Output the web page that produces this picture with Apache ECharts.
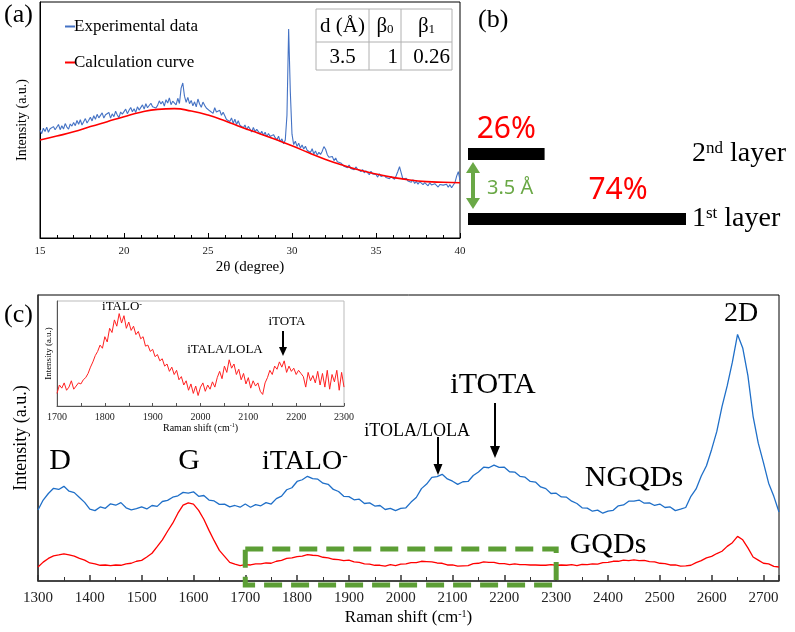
<!DOCTYPE html>
<html><head><meta charset="utf-8">
<script src="https://cdn.jsdelivr.net/npm/echarts@6/dist/echarts.min.js"></script>
<style>html,body{margin:0;padding:0;background:#fff}#c{width:795px;height:632px}</style>
</head><body><div id="c"></div>
<script>
// ---------- data ----------
const xrdStart = 15, xrdStep = 0.1;
const xrdExperimental = [
  45.8,44.2,46.5,45.1,47.0,44.8,46.3,45.5,47.2,45.9,
  46.4,48.1,45.9,47.6,46.2,48.5,47.0,46.1,48.3,47.4,
  48.9,47.6,49.8,48.2,50.1,47.9,49.3,50.6,48.7,49.9,
  51.2,49.6,51.8,50.3,52.4,50.9,51.5,53.0,50.8,52.2,
  51.9,53.2,50.8,52.6,51.4,53.7,52.1,51.0,53.4,52.5,
  53.0,54.6,52.7,54.1,55.3,53.5,54.8,53.2,55.6,54.2,
  55.0,56.4,54.6,56.9,55.2,54.8,57.1,55.6,56.3,55.1,
  56.2,58.1,56.8,57.9,55.9,58.6,57.2,59.4,56.5,58.0,
  57.8,56.4,59.2,57.0,63.5,65.7,60.1,57.5,59.6,56.9,
  58.3,56.0,57.7,55.6,58.9,56.8,55.4,57.6,56.2,55.1,
  55.8,53.9,54.7,52.8,55.2,53.4,52.6,54.1,52.0,53.3,
  51.8,50.2,51.0,49.4,50.9,48.6,50.3,48.1,49.7,47.8,
  48.4,46.7,47.9,45.8,47.3,46.2,44.9,46.8,45.1,46.0,
  45.9,44.1,45.2,43.6,44.8,42.9,44.3,43.0,42.2,43.8,
  42.5,41.6,43.1,40.8,42.0,39.9,41.5,52.0,88.6,62.0,
  44.0,39.6,41.0,38.8,40.2,38.1,39.4,37.7,38.9,37.2,
  37.4,36.2,37.8,35.6,36.9,35.1,36.3,35.4,36.8,38.7,
  37.6,35.3,34.2,33.4,34.5,32.8,33.9,32.3,33.1,31.8,
  31.9,30.4,31.2,29.8,30.9,29.5,30.3,28.9,30.1,29.2,
  29.4,28.1,29.0,27.6,28.5,27.9,26.8,28.3,27.1,27.8,
  26.9,25.8,27.2,26.1,25.4,26.6,25.6,26.2,25.1,26.0,
  25.7,24.9,26.4,28.2,30.2,27.6,25.0,24.6,25.3,24.2,
  24.4,23.6,24.7,23.1,24.0,22.8,23.9,23.3,22.6,23.5,
  22.9,22.1,23.4,22.5,21.8,23.0,22.3,21.6,22.7,22.0,
  22.4,21.7,22.8,21.5,22.6,21.3,22.1,23.5,26.2,28.1,
  24.5
];
const calcTheta = [15,16,17,18,19,20,21,22,23,24,25,26,27,28,29,30,31,32,33,34,35,36,37,38,39,40];
const calcCurve = [41.5,43.2,45.0,47.2,49.3,51.4,53.3,54.5,54.8,53.8,52.1,49.7,46.9,44.4,41.8,39.1,36.1,33.3,30.9,28.8,27.1,25.7,24.6,23.9,23.6,23.4];

const layerNames = ['1st layer', '2nd layer'];
const layerShares = [74, 26];
const tableHead = ['d (Å)', 'β0', 'β1'];
const tableRow = ['3.5', '1', '0.26'];

const ramanStart = 1300, ramanStep = 10;
const ngqds = [
  24.8,28.3,30.6,32.4,32.0,33.1,31.4,30.9,29.2,27.5,
  25.1,24.6,25.9,25.4,27.0,26.5,27.4,25.6,24.9,25.3,
  25.9,25.2,26.4,26.1,27.8,28.2,29.3,29.8,31.0,30.7,
  31.2,29.6,29.9,28.3,28.0,26.8,26.9,25.9,26.4,25.8,
  26.9,25.8,26.7,26.3,27.4,26.9,28.8,29.7,31.9,32.6,
  34.8,35.4,36.6,35.8,35.6,34.2,33.8,32.0,31.3,29.6,
  29.5,28.4,28.6,27.1,27.3,26.2,26.4,25.0,25.4,24.6,
  25.4,25.6,27.6,29.2,32.3,33.9,36.2,36.5,37.3,35.7,
  34.9,33.8,34.7,34.8,36.9,38.1,39.8,39.6,40.5,39.7,
  39.8,38.2,38.1,36.6,36.3,34.8,34.6,32.9,32.3,30.6,
  30.7,29.4,29.3,27.9,27.1,25.6,25.5,24.4,24.8,23.7,
  24.4,24.7,26.3,26.6,27.9,27.9,28.3,27.2,27.3,26.4,
  26.9,25.7,25.9,24.6,25.1,25.7,29.6,32.2,36.7,40.3,
  46.0,52.3,61.0,68.2,76.5,86.2,81.5,71.8,57.6,48.2,
  41.4,34.2,29.6,24.1
];
const gqds = [
  4.9,6.6,7.9,8.8,9.1,9.5,9.1,8.7,7.9,7.3,
  6.3,6.0,5.5,5.6,5.4,5.6,5.5,6.0,6.2,6.9,
  7.2,8.4,9.7,12.0,14.4,17.4,20.2,23.7,26.5,27.3,
  26.9,24.7,21.6,17.7,14.1,10.7,8.6,6.5,5.9,5.4,
  5.7,5.6,6.0,6.0,6.3,6.2,6.9,7.2,7.9,8.1,
  8.5,8.7,9.2,9.0,8.9,8.3,8.1,7.6,7.5,7.1,
  7.3,6.7,6.5,6.0,5.9,5.5,5.5,5.2,5.7,5.4,
  5.9,6.0,6.4,6.4,6.9,6.8,6.7,6.3,6.2,5.6,
  5.6,5.2,5.3,5.4,6.1,6.2,6.7,6.5,6.5,6.1,
  6.1,5.7,6.0,5.7,5.7,5.6,5.6,5.5,5.5,5.7,
  5.5,5.6,5.5,5.7,5.4,5.8,5.7,6.0,5.9,6.4,
  6.5,6.9,6.9,7.3,7.1,7.4,7.1,7.2,6.8,6.7,
  6.2,6.1,5.6,5.6,5.2,5.3,5.5,6.4,7.1,8.1,
  8.6,9.6,10.4,12.1,13.4,15.6,14.4,11.6,8.4,7.3,
  6.2,6.0,5.1,4.9
];
const insetStart = 1700, insetStep = 5;
const insetGqds = [
  12,20,17,22,15,18,24,16,19,22,21,25,27,31,37,42,48,52,58,55,
  66,61,74,70,82,76,88,79,86,74,80,72,76,68,71,64,66,57,58,52,
  54,47,49,43,45,38,40,33,37,30,34,25,28,20,24,15,21,12,19,10,
  18,22,14,20,16,23,18,27,33,26,38,32,44,36,40,30,35,25,31,21,
  27,17,24,19,22,14,11,22,27,34,30,38,35,42,37,43,32,38,33,36,
  30,34,31,28,18,32,24,29,22,33,20,31,18,34,16,30,23,34,15,32,
  18
];

// ---------- helpers ----------
const pairs = (start, step, ys) => ys.map((y, i) => [+(start + i * step).toFixed(3), y]);
const pairsXY = (xs, ys) => xs.map((x, i) => [x, ys[i]]);
const SERIF = "'Liberation Serif', 'Times New Roman', serif";
const SANS = "'Noto Sans', 'Liberation Sans', sans-serif";

const chart = echarts.init(document.getElementById('c'), null, {renderer: 'canvas'});

function txt(x, y, text, size, opts) {
  opts = opts || {};
  return {
    type: 'text', x: x, y: y, z: 10,
    style: Object.assign({
      text: text, fontFamily: opts.family || SERIF, fontSize: size,
      fill: opts.color || '#000', textAlign: opts.align || 'left', textVerticalAlign: 'middle'
    }, opts.rich ? {rich: opts.rich} : {})
  };
}
function arrowDown(x, y1, y2, w, headH) {
  return [
    {type: 'line', z: 10, shape: {x1: x, y1: y1, x2: x, y2: y2 - headH + 1}, style: {stroke: '#000', lineWidth: 2}},
    {type: 'polygon', z: 10, shape: {points: [[x - w / 2, y2 - headH], [x + w / 2, y2 - headH], [x, y2]]}, style: {fill: '#000'}}
  ];
}
const GREEN = '#6aa846';
const supRich = (size) => ({
  n: {fontFamily: SERIF, fontSize: size, fill: '#000', color: '#000'},
  s: {fontFamily: SERIF, fontSize: Math.round(size * 0.6), verticalAlign: 'top', fill: '#000', color: '#000'},
  b: {fontFamily: SERIF, fontSize: Math.round(size * 0.6), verticalAlign: 'bottom', fill: '#000', color: '#000'}
});

const graphics = [
  txt(4, 15, '(a)', 26),
  txt(478, 20, '(b)', 26),
  txt(4, 315, '(c)', 26),
  // table
  {type: 'rect', z: 9, shape: {x: 316, y: 9, width: 136, height: 61}, style: {fill: '#fff', stroke: '#b0b0b0', lineWidth: 1}},
  {type: 'line', z: 9, shape: {x1: 316, y1: 42, x2: 452, y2: 42}, style: {stroke: '#b0b0b0', lineWidth: 1}},
  {type: 'line', z: 9, shape: {x1: 369, y1: 9, x2: 369, y2: 70}, style: {stroke: '#b0b0b0', lineWidth: 1}},
  {type: 'line', z: 9, shape: {x1: 401, y1: 9, x2: 401, y2: 70}, style: {stroke: '#b0b0b0', lineWidth: 1}},
  txt(342.5, 26, tableHead[0], 21, {align: 'center'}),
  txt(385, 26, '{n|β}{b|0}', 21, {align: 'center', rich: supRich(21)}),
  txt(426.5, 26, '{n|β}{b|1}', 21, {align: 'center', rich: supRich(21)}),
  txt(342.5, 57, tableRow[0], 21, {align: 'center'}),
  txt(398, 57, tableRow[1], 21, {align: 'right'}),
  txt(450, 57, tableRow[2], 21, {align: 'right'}),
  // panel b double arrow
  {type: 'line', z: 10, shape: {x1: 473, y1: 170, x2: 473, y2: 201}, style: {stroke: GREEN, lineWidth: 4}},
  {type: 'polygon', z: 10, shape: {points: [[466, 173], [480, 173], [473, 162]]}, style: {fill: GREEN}},
  {type: 'polygon', z: 10, shape: {points: [[466, 198], [480, 198], [473, 209]]}, style: {fill: GREEN}},
  txt(487, 188, '3.5 Å', 20, {family: SANS, color: GREEN}),
  // panel c labels
  txt(60, 461, 'D', 30, {align: 'center'}),
  txt(189, 461, 'G', 30, {align: 'center'}),
  txt(262, 462, '{n|iTALO}{s|-}', 28, {rich: supRich(28)}),
  txt(470, 431, 'iTOLA/LOLA', 18, {align: 'right'}),
  txt(493, 385, 'iTOTA', 30, {align: 'center'}),
  txt(634, 478, 'NGQDs', 30, {align: 'center'}),
  txt(608, 545, 'GQDs', 30, {align: 'center'}),
  txt(741, 314, '2D', 28, {align: 'center'}),
  ...arrowDown(438, 437, 475, 9, 11),
  ...arrowDown(495, 403, 458, 10, 12),
  // inset labels
  txt(122, 307, '{n|iTALO}{s|-}', 13, {align: 'center', rich: supRich(13)}),
  txt(225, 350, 'iTALA/LOLA', 13, {align: 'center'}),
  txt(287, 322, 'iTOTA', 13, {align: 'center'}),
  ...arrowDown(283, 331, 356, 8, 9)
];

const axisTextColor = '#222';
const option = {
  animation: false,
  backgroundColor: '#fff',
  textStyle: {fontFamily: SERIF},
  legend: {
    left: 60, top: 13, orient: 'vertical', itemGap: 19, itemWidth: 10, itemHeight: 2, icon: 'rect',
    data: ['Experimental data', 'Calculation curve'],
    textStyle: {fontFamily: SERIF, fontSize: 17, color: '#000', padding: [0, 0, 0, -6]}
  },
  grid: [
    {left: 40, top: 2, width: 420, height: 236, show: true, borderColor: '#000', borderWidth: 1, outerBoundsMode: 'none'},
    {left: 468, right: 109, top: 121.5, height: 130, outerBoundsMode: 'none'},
    {left: 38, top: 295, width: 741, height: 286, show: true, borderColor: '#000', borderWidth: 1, outerBoundsMode: 'none'},
    {left: 57, top: 301, width: 287, height: 105, show: true, borderColor: '#bbb', borderWidth: 1, backgroundColor: '#fff', outerBoundsMode: 'none'}
  ],
  xAxis: [
    {gridIndex: 0, type: 'value', min: 15, max: 40, interval: 5,
     name: '2θ (degree)', nameLocation: 'middle', nameGap: 22, nameTextStyle: {fontFamily: SERIF, fontSize: 15, color: '#000'},
     axisLine: {lineStyle: {color: '#000'}}, axisTick: {inside: true, length: 5, lineStyle: {color: '#000'}},
     minorTick: {show: true, splitNumber: 5, length: 3, lineStyle: {color: '#000'}},
     axisLabel: {fontFamily: SERIF, fontSize: 11, color: axisTextColor, margin: 8}, splitLine: {show: false}},
    {gridIndex: 1, type: 'value', min: 0, max: 74, show: false},
    {gridIndex: 2, type: 'value', min: 1300, max: 2730, interval: 100,
     name: '{n|Raman shift (cm}{s|-1}{n|)}', nameLocation: 'middle', nameGap: 28,
     nameTextStyle: {rich: supRich(17)},
     axisLine: {lineStyle: {color: '#333', width: 1.5}}, axisTick: {inside: true, length: 6, lineStyle: {color: '#333', width: 1.5}},
     minorTick: {show: true, splitNumber: 2, length: 4, lineStyle: {color: '#333'}},
     axisLabel: {fontFamily: SERIF, fontSize: 15, color: axisTextColor, margin: 10,
                 formatter: v => (v > 2700 ? '' : String(v))}, splitLine: {show: false}},
    {gridIndex: 3, type: 'value', min: 1700, max: 2300, interval: 100,
     name: '{n|Raman shift (cm}{s|-1}{n|)}', nameLocation: 'middle', nameGap: 16,
     nameTextStyle: {rich: supRich(10)},
     axisLine: {lineStyle: {color: '#555'}}, axisTick: {inside: true, length: 3, lineStyle: {color: '#555'}},
     minorTick: {show: true, splitNumber: 2, length: 3, lineStyle: {color: '#555'}},
     axisLabel: {fontFamily: SERIF, fontSize: 10, color: axisTextColor, margin: 6, formatter: v => String(v)}, splitLine: {show: false}}
  ],
  yAxis: [
    {gridIndex: 0, type: 'value', min: 0, max: 100,
     name: 'Intensity (a.u.)', nameLocation: 'middle', nameGap: 11,
     nameTextStyle: {fontFamily: SERIF, fontSize: 14, color: '#000'},
     axisLine: {show: true, lineStyle: {color: '#000'}}, axisTick: {show: false}, axisLabel: {show: false}, splitLine: {show: false}},
    {gridIndex: 1, type: 'category', data: layerNames, position: 'right',
     axisLine: {show: false}, axisTick: {show: false}, splitLine: {show: false},
     axisLabel: {margin: 6, color: '#000', formatter: v => v.replace(/^(\d)(st|nd|rd|th)(.*)$/, '{n|$1}{s|$2}{n|$3}'), rich: supRich(28)}},
    {gridIndex: 2, type: 'value', min: 0, max: 100,
     name: 'Intensity (a.u.)', nameLocation: 'middle', nameGap: 8,
     nameTextStyle: {fontFamily: SERIF, fontSize: 18, color: '#000'},
     axisLine: {show: true, lineStyle: {color: '#333', width: 1.5}}, axisTick: {show: false}, axisLabel: {show: false}, splitLine: {show: false}},
    {gridIndex: 3, type: 'value', min: 0, max: 100,
     name: 'Intensity (a.u.)', nameLocation: 'middle', nameGap: 4,
     nameTextStyle: {fontFamily: SERIF, fontSize: 9, color: '#000'},
     axisLine: {show: true, lineStyle: {color: '#555'}}, axisTick: {show: false}, axisLabel: {show: false}, splitLine: {show: false}}
  ],
  series: [
    {name: 'Experimental data', type: 'line', xAxisIndex: 0, yAxisIndex: 0, showSymbol: false,
     data: pairs(xrdStart, xrdStep, xrdExperimental), lineStyle: {color: '#4472c4', width: 1.1}, itemStyle: {color: '#4472c4'}},
    {name: 'Calculation curve', type: 'line', xAxisIndex: 0, yAxisIndex: 0, showSymbol: false, smooth: true, z: 3,
     data: pairsXY(calcTheta, calcCurve), lineStyle: {color: '#ff0000', width: 1.6}, itemStyle: {color: '#ff0000'}},
    {name: 'layers', type: 'bar', xAxisIndex: 1, yAxisIndex: 1, barWidth: 12,
     itemStyle: {color: '#000'},
     data: layerShares.map((v, i) => ({
       value: v,
       label: {show: true, position: 'top', formatter: '{c}%', color: '#ff0000', fontFamily: SANS, fontSize: 30,
               distance: 4, offset: i === 0 ? [41, -4] : [0, 0]}
     }))},
    {name: 'NGQDs', type: 'line', xAxisIndex: 2, yAxisIndex: 2, showSymbol: false,
     data: pairs(ramanStart, ramanStep, ngqds), lineStyle: {color: '#1f6fc8', width: 1.3}},
    {name: 'GQDs', type: 'line', xAxisIndex: 2, yAxisIndex: 2, showSymbol: false,
     data: pairs(ramanStart, ramanStep, gqds), lineStyle: {color: '#ff0000', width: 1.3}},
    {name: 'GQDs inset', type: 'line', xAxisIndex: 3, yAxisIndex: 3, showSymbol: false, z: 5,
     data: pairs(insetStart, insetStep, insetGqds), lineStyle: {color: '#ff2020', width: 1}}
  ],
  graphic: graphics
};
chart.setOption(option);

// dashed green box around the 1700–2300 window, placed through the axis scale
const bx1 = chart.convertToPixel({xAxisIndex: 2}, 1700);
const bx2 = chart.convertToPixel({xAxisIndex: 2}, 2300);
chart.setOption({graphic: graphics.concat([{
  type: 'rect', z: 8, shape: {x: bx1, y: 549, width: bx2 - bx1, height: 36},
  style: {fill: 'none', stroke: '#5c9e35', lineWidth: 5, lineDash: [18, 9]}
}])});
</script></body></html>
